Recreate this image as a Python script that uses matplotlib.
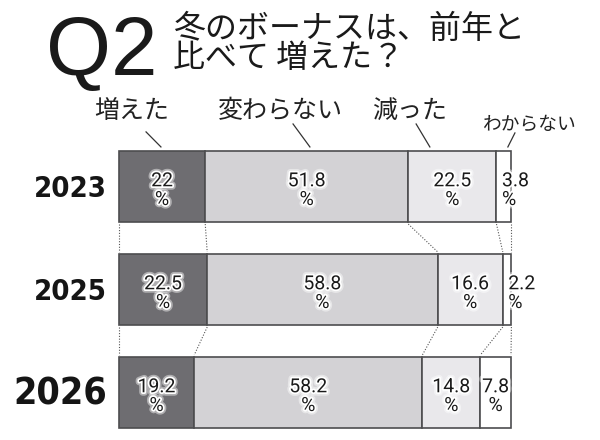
import matplotlib.pyplot as plt
import matplotlib.patheffects as pe
from matplotlib import font_manager as fm
import numpy as np

years = ['2023', '2025', '2026']
categories = ['増えた', '変わらない', '減った', 'わからない']
values = [
    [22, 51.8, 22.5, 3.8],
    [22.5, 58.8, 16.6, 2.2],
    [19.2, 58.2, 14.8, 7.8],
]
value_labels = [
    ['22', '51.8', '22.5', '3.8'],
    ['22.5', '58.8', '16.6', '2.2'],
    ['19.2', '58.2', '14.8', '7.8'],
]
colors = ['#6e6d71', '#d3d2d5', '#e9e8eb', '#ffffff']
edge = '#4d4d4f'

jp = ['Noto Sans CJK JP', 'DejaVu Sans']

# condensed face for the year labels if the system has one
has_cond = any(f.name == 'DejaVu Sans' and f.stretch == 'condensed' and f.weight in ('bold', 700)
               for f in fm.fontManager.ttflist)
if has_cond:
    year_sizes = [21, 21, 27]
else:
    year_sizes = [18, 18, 23]

fig = plt.figure(figsize=(6, 4.4), dpi=100)
W, H = 600, 440
ax = fig.add_axes([119 / W, 1 - 428 / H, 392 / W, (428 - 151) / H])
h = 71 / 103
ax.set_xlim(0, 100)
ax.set_ylim(2 + h / 2, -h / 2)
ax.axis('off')

vals = np.array(values)
starts = np.hstack([np.zeros((3, 1)), np.cumsum(vals, axis=1)[:, :-1]])

for j in range(len(categories)):
    ax.barh(range(3), vals[:, j], left=starts[:, j], height=h,
            color=colors[j], edgecolor=edge, linewidth=1.2, clip_on=False)

# value labels, dark text with a soft white halo
glow = [pe.withStroke(linewidth=5, foreground=(1, 1, 1, 0.45)),
        pe.withStroke(linewidth=2.5, foreground='white')]
for i in range(3):
    for j in range(4):
        v = vals[i, j]
        txt = value_labels[i][j] + '\n%'
        if v < 5:
            x = starts[i, j] + 1.4
            ha = 'left'
        else:
            x = starts[i, j] + v / 2
            ha = 'center'
        ax.text(x, i + 0.04, txt, ha=ha, va='center', fontsize=14,
                family=['Roboto', 'DejaVu Sans'], fontweight='normal',
                color='#1a1a1a', linespacing=1.05,
                path_effects=glow, clip_on=False)

# year labels
for i, y in enumerate(years):
    ax.text(-3, i + 0.02, y, ha='right', va='center', fontsize=year_sizes[i],
            fontweight='bold', fontstretch='condensed', family='DejaVu Sans',
            color='#151515')

# dotted connectors between bars
bounds = np.hstack([np.zeros((3, 1)), np.cumsum(vals, axis=1)])
for i in range(2):
    for k in range(bounds.shape[1]):
        ax.plot([bounds[i, k], bounds[i + 1, k]], [i + h / 2 + 0.02, i + 1 - h / 2 - 0.02],
                ls=(0, (1, 1.5)), color='#555555', lw=0.8, clip_on=False)

# category headers with leader lines
head_x = [3.2, 41.2, 74.0, 104.8]
head_y = [-0.733, -0.733, -0.733, -0.607]
head_size = [18, 18, 18, 13.5]
leaders = [((6.9, -0.53), (10.7, -0.384)),
           ((44.4, -0.607), (48.7, -0.384)),
           ((75.8, -0.607), (79.3, -0.384)),
           ((101.0, -0.52), (99.2, -0.384))]
for c, x, y, s, (p0, p1) in zip(categories, head_x, head_y, head_size, leaders):
    ax.text(x, y, c, ha='center', va='center', fontsize=s, family=jp, color='#222222')
    ax.plot([p0[0], p1[0]], [p0[1], p1[1]], color='#333333', lw=0.9, clip_on=False)

# title
fig.text(46 / W, 1 - 75 / H, 'Q2', fontsize=60, family=['Liberation Sans', 'DejaVu Sans'],
         color='#1a1a1a', va='baseline', ha='left')
fig.text(173 / W, 1 - 29 / H, '冬のボーナスは、前年と', fontsize=23, family=jp,
         color='#1a1a1a', va='center', ha='left')
fig.text(173 / W, 1 - 58 / H, '比べて 増えた？', fontsize=23, family=jp,
         color='#1a1a1a', va='center', ha='left')

fig.savefig('out.png', dpi=100, facecolor='white')
